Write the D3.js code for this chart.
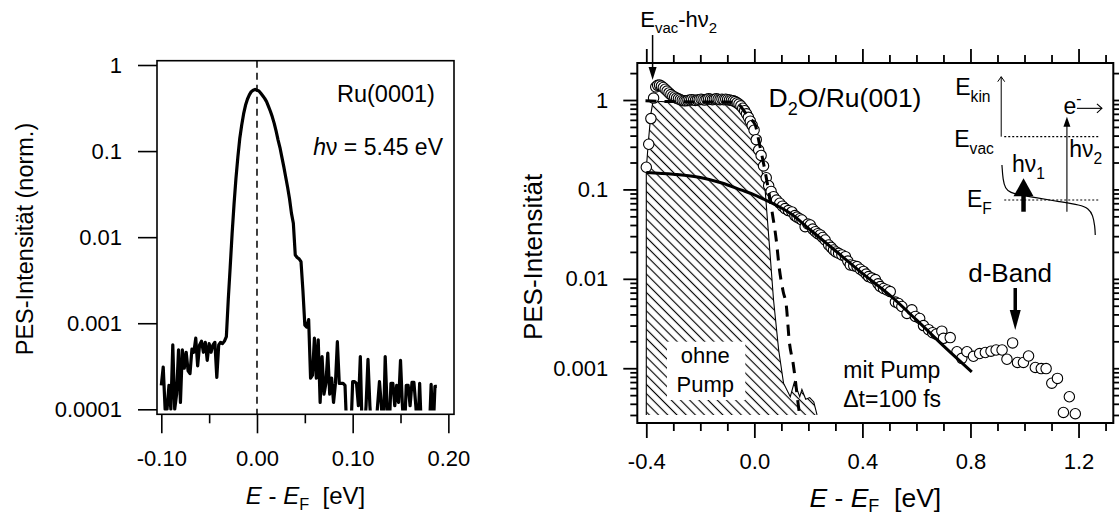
<!DOCTYPE html>
<html>
<head>
<meta charset="utf-8">
<title>PES spectra</title>
<script src="https://cdn.jsdelivr.net/npm/d3@7/dist/d3.min.js"></script>
<style>
html,body{margin:0;padding:0;background:#fff;}
svg{display:block;}
text{font-family:"Liberation Sans",Arial,Helvetica,sans-serif;fill:#000;}
</style>
</head>
<body>
<svg id="chart" width="1119" height="519"></svg>
<script>
// ================= DATA =================
// Left panel: Ru(0001), hv = 5.45 eV  (E - E_F in eV, sampled every 2 meV)
const leftStartE = -0.100, leftStepE = 0.002;
const leftI = [
 1.9e-4,3.1e-4,1.0e-4,1.0e-4,1.9e-4,1.0e-4,5.6e-4,1.0e-4,1.5e-4,4.9e-4,
 1.2e-4,4.9e-4,3.0e-4,4.6e-4,2.8e-4,2.6e-4,5.0e-4,4.6e-4,6.7e-4,3.2e-4,
 5.6e-4,6.2e-4,4.6e-4,6.0e-4,3.7e-4,5.8e-4,4.6e-4,5.6e-4,6.0e-4,2.35e-4,
 5.6e-4,6.0e-4,5.8e-4,6.2e-4,7.0e-4,1.9e-3,4.5e-3,0.011,0.024,0.048,
 0.085,0.14,0.20,0.27,0.34,0.40,0.45,0.49,0.51,0.52,
 0.51,0.50,0.47,0.44,0.41,0.375,0.33,0.29,0.25,0.21,
 0.17,0.135,0.11,0.085,0.066,0.05,0.038,0.028,0.019,0.0145,
 0.0062,0.0058,0.0056,0.0052,0.0024,9.5e-4,9.0e-4,1.1e-3,2.3e-4,2.5e-4,
 6.7e-4,2.3e-4,6.4e-4,1.2e-4,4.1e-4,1.5e-4,2.0e-4,4.5e-4,1.5e-4,2.3e-4,
 1.2e-4,2.0e-4,6.1e-4,2.0e-4,2.0e-4,2.0e-4,1.9e-4,5e-5,5e-5,5e-5,
 2.1e-4,2.1e-4,2.0e-4,1.1e-4,4.1e-4,5e-5,5e-5,1.1e-4,3.8e-4,1.1e-4,
 5e-5,5e-5,5e-5,1.1e-4,2.1e-4,1.1e-4,5e-5,4.1e-4,1.1e-4,5e-5,
 2.0e-4,2.0e-4,1.1e-4,1.9e-4,1.2e-4,3.7e-4,1.1e-4,5e-5,1.9e-4,1.9e-4,
 1.1e-4,2.05e-4,2.05e-4,1.1e-4,5e-5,2.0e-4,5e-5,5e-5,5e-5,5e-5,
 5e-5,1.95e-4,5e-5,1.85e-4,1.85e-4
];
const leftE = leftI.map((_, i) => +(leftStartE + i * leftStepE).toFixed(3));
const leftXTicks  = [-0.10, -0.05, 0.00, 0.05, 0.10, 0.15, 0.20];
const leftXLabels = ["-0.10", "", "0.00", "", "0.10", "", "0.20"];
const leftYTicks  = [1, 0.1, 0.01, 0.001, 0.0001];
const leftYLabels = ["1", "0.1", "0.01", "0.001", "0.0001"];

// Right panel: D2O/Ru(001), "mit Pump" (open circles)
const pumpE = [-0.400,-0.391,-0.383,-0.373,
 -0.365,-0.358,-0.351,-0.344,-0.337,-0.330,-0.323,-0.316,-0.309,-0.302,
 -0.295,-0.288,-0.281,-0.274,-0.267,-0.260,-0.253,-0.246,-0.239,-0.232,
 -0.225,-0.218,-0.211,-0.204,-0.197,-0.190,-0.183,-0.176,-0.169,-0.162,
 -0.155,-0.148,-0.141,-0.134,-0.127,-0.120,-0.113,-0.106,-0.099,-0.092,
 -0.085,-0.078,-0.071,-0.064,-0.057,-0.050,-0.043,-0.036,-0.029,-0.022,
 -0.015,-0.008,
 -0.001,0.007,0.016,0.025,0.034,0.044,0.053,0.062,0.071,0.082,
 0.094,0.104,0.114,0.126,0.139,0.150,0.158,0.168,0.176,0.188,
 0.198,0.207,0.216,0.226,0.235,0.244,0.253,0.262,0.275,0.284,
 0.293,0.302,0.312,0.324,0.337,0.346,0.355,0.368,0.380,0.392,
 0.404,0.414,0.423,0.435,0.448,0.458,0.466,0.478,0.491,0.503,
 0.522,0.534,0.546,0.565,0.583,0.596,0.612,0.626,0.645,0.660,
 0.673,0.694,0.700,0.725,0.750,0.768,0.787,0.811,0.834,0.855,
 0.876,0.895,0.917,0.935,0.956,0.974,0.996,1.015,1.040,1.062,
 1.080,1.101,1.122,1.144,1.166,1.188];
const pumpI = [0.177,0.32,0.62,1.05,
 1.40,1.46,1.47,1.43,1.38,1.32,1.26,1.20,1.15,1.11,
 1.08,1.05,1.03,1.01,0.99,0.98,0.98,0.99,1.00,1.01,
 1.00,0.99,1.00,1.01,1.02,1.01,1.00,1.02,1.03,1.02,
 1.01,1.02,1.03,1.02,1.01,1.02,1.01,1.02,1.01,1.00,
 0.99,0.98,0.96,0.93,0.90,0.86,0.81,0.76,0.70,0.64,
 0.58,0.52,
 0.46,0.36,0.276,0.24,0.183,0.135,0.11,0.095,0.083,0.076,
 0.07,0.065,0.061,0.058,0.056,0.051,0.049,0.047,0.0455,0.0383,
 0.041,0.040,0.036,0.0337,0.032,0.031,0.029,0.0272,0.0239,0.0225,
 0.021,0.020,0.0193,0.0185,0.0177,0.0158,0.0143,0.014,0.0137,0.0128,
 0.0121,0.0113,0.0106,0.0102,0.0098,0.0088,0.0082,0.0078,0.0075,0.0072,
 0.0055,0.0053,0.0049,0.0041,0.0045,0.0038,0.0036,0.0030,0.0027,0.0025,
 0.0024,0.0026,0.00216,0.0022,0.00153,0.00129,0.00153,0.00136,0.00146,0.0015,
 0.00155,0.0016,0.0016,0.00126,0.00192,0.00116,0.00116,0.00137,0.00102,0.00099,
 0.00099,0.00068,0.00077,0.00032,0.00048,0.00031];

// solid fit curve through "mit Pump"
const fitE = [-0.400,-0.300,-0.200,-0.120,-0.050,0.000,0.050,0.100,0.133,0.200,0.300,0.400,0.500,0.600,0.700,0.805];
const fitI = [0.155,0.148,0.136,0.118,0.099,0.087,0.074,0.062,0.054,0.0367,0.0206,0.0115,0.0066,0.00347,0.00178,0.00091];

// dashed curve (fit of "ohne Pump")
const ohneFitE = [-0.403,-0.300,-0.200,-0.100,-0.070,-0.055,-0.041,-0.020,0.0034,0.0182,0.0367,0.0663,0.0811,0.0922,0.107,0.118,0.1292,0.144,0.1627,0.1681];
const ohneFitI = [0.98,0.96,0.95,0.95,0.94,0.88,0.773,0.64,0.525,0.33,0.178,0.0545,0.0272,0.0132,0.00712,0.00509,0.00201,0.00111,3.87e-4,2.85e-4];

// hatched "ohne Pump" spectrum
const ohneE = [-0.400,-0.392,-0.383,-0.375,-0.360,-0.300,-0.200,-0.100,-0.060,-0.040,-0.020,-0.009,0.002,0.010,0.022,0.034,0.040,0.057,0.071,0.090,0.108,0.133,0.148,0.158,0.168,0.176,0.190,0.205,0.220,0.232];
const ohneI = [0.17,0.35,0.70,0.98,0.97,0.94,0.93,0.94,0.90,0.80,0.68,0.55,0.43,0.33,0.21,0.127,0.098,0.021,0.0058,0.0016,0.00068,0.00048,0.0007,0.00058,0.00048,0.00058,0.00045,0.00047,0.00042,0.0003];
const ohneBase = 3e-4;

const rightXTicks  = [-0.4,-0.3,-0.2,-0.1,0.0,0.1,0.2,0.3,0.4,0.5,0.6,0.7,0.8,0.9,1.0,1.1,1.2,1.3];
const rightXLabels = ["-0.4","","","","0.0","","","","0.4","","","","0.8","","","","1.2",""];
const rightYMajor  = [0.001, 0.01, 0.1, 1];
const rightYLabels = ["0.001", "0.01", "0.1", "1"];
const rightYMinor  = [3e-4,4e-4,5e-4,6e-4,7e-4,8e-4,9e-4,
                      2e-3,3e-3,4e-3,5e-3,6e-3,7e-3,8e-3,9e-3,
                      0.02,0.03,0.04,0.05,0.06,0.07,0.08,0.09,
                      0.2,0.3,0.4,0.5,0.6,0.7,0.8,0.9,2];

// inset energy diagram (sketch) in panel data coordinates [E, I]
const dosE = [0.9165,0.9202,0.9287,0.9472,0.9842,1.0336,1.1323,1.2063,1.2370,1.2533,1.2607,1.2619];
const dosI = [0.1875,0.1274,0.1028,0.0918,0.0865,0.0816,0.0728,0.0669,0.0614,0.0517,0.0383,0.0309];

// ================= DRAW =================
const svg = d3.select("#chart");
const defs = svg.append("defs");
const BLACK = "#000";

function richText(g, x, y, parts, size, anchor, subShift) {
  const t = g.append("text").attr("x", x).attr("y", y)
    .attr("font-size", size).attr("text-anchor", anchor || "start")
    .attr("xml:space", "preserve").style("white-space", "pre");
  const sub = subShift == null ? 0.3 : subShift;
  let shift = 0;
  parts.forEach(p => {
    const str = p[0], kind = p[1] || "", style = p[2] || "";
    let target = 0, fs = size;
    if (kind === "sub") { target = size * sub; fs = size * 0.68; }
    if (kind === "sup") { target = -size * 0.42; fs = size * 0.68; }
    const ts = t.append("tspan").text(str).attr("font-size", fs).attr("dy", target - shift);
    shift = target;
    if (style === "italic") ts.attr("font-style", "italic");
  });
  return t;
}

function arrow(g, x0, y0, x1, y1, o) {
  const dx = x1 - x0, dy = y1 - y0, L = Math.hypot(dx, dy), ux = dx / L, uy = dy / L;
  const bx = x1 - ux * o.hl, by = y1 - uy * o.hl;
  const pts = `${bx - uy * o.hw / 2},${by + ux * o.hw / 2} ${x1},${y1} ${bx + uy * o.hw / 2},${by - ux * o.hw / 2}`;
  if (o.open) {
    g.append("line").attr("x1", x0).attr("y1", y0).attr("x2", x1).attr("y2", y1)
      .attr("stroke", BLACK).attr("stroke-width", o.sw);
    g.append("polyline").attr("points", pts).attr("fill", "none").attr("stroke", BLACK).attr("stroke-width", o.sw);
  } else {
    g.append("line").attr("x1", x0).attr("y1", y0).attr("x2", bx + ux * 1).attr("y2", by + uy * 1)
      .attr("stroke", BLACK).attr("stroke-width", o.sw);
    g.append("polygon").attr("points", pts).attr("fill", BLACK);
  }
}

// ---------- LEFT PANEL ----------
const xL = d3.scaleLinear().domain([-0.1045, 0.2059]).range([157, 454]);
const yL = d3.scaleLog().domain([8.75e-5, 1.122]).range([414.3, 60.7]);
const fL = { x0: 157, x1: 454, y0: 60.7, y1: 414.3 };

defs.append("clipPath").attr("id", "clipL").append("rect")
  .attr("x", fL.x0).attr("y", fL.y0).attr("width", fL.x1 - fL.x0)
  .attr("height", yL(1e-4) + 1.2 - fL.y0);

const gL = svg.append("g");
gL.append("line").attr("x1", xL(0)).attr("x2", xL(0)).attr("y1", fL.y0).attr("y2", fL.y1)
  .attr("stroke", BLACK).attr("stroke-width", 1.5).attr("stroke-dasharray", "7,5");

gL.append("path").datum(leftE.map((e, i) => [e, leftI[i]]))
  .attr("clip-path", "url(#clipL)")
  .attr("fill", "none").attr("stroke", BLACK).attr("stroke-width", 3.2)
  .attr("stroke-linejoin", "round")
  .attr("d", d3.line().x(d => xL(d[0])).y(d => yL(d[1])));

gL.append("rect").attr("x", fL.x0).attr("y", fL.y0).attr("width", fL.x1 - fL.x0)
  .attr("height", fL.y1 - fL.y0).attr("fill", "none").attr("stroke", BLACK).attr("stroke-width", 1.6);

// left axes
const gLY = gL.append("g").attr("transform", `translate(${fL.x0},0)`)
  .call(d3.axisLeft(yL).tickValues(leftYTicks).tickFormat((d, i) => leftYLabels[i]).tickSize(19).tickPadding(16));
gLY.select(".domain").remove();
gLY.attr("font-size", 22).attr("font-family", null);
gLY.selectAll(".tick line").attr("stroke-width", 1.6);

const gLX = gL.append("g").attr("transform", `translate(0,${fL.y1})`)
  .call(d3.axisBottom(xL).tickValues(leftXTicks).tickFormat((d, i) => leftXLabels[i]).tickSize(19));
gLX.select(".domain").remove();
gLX.attr("font-size", 22).attr("font-family", null);
gLX.selectAll(".tick line").attr("stroke-width", 1.6)
  .attr("y2", d => leftXLabels[leftXTicks.indexOf(d)] ? 19 : 9);
gLX.selectAll(".tick text").attr("y", 51.7).attr("dy", 0);

// left titles
gL.append("text").attr("transform", "translate(33,239) rotate(-90)")
  .attr("text-anchor", "middle").attr("font-size", 23.5).text("PES-Intensität (norm.)");
richText(gL, (fL.x0 + fL.x1) / 2, 504,
  [["E", "", "italic"], [" - "], ["E", "", "italic"], ["F", "sub"], ["  [eV]"]], 24, "middle", 0.24);
richText(gL, xL(0.186), yL(0.375), [["Ru(0001)"]], 23.5, "end");
richText(gL, xL(0.1944), yL(0.09), [["h", "", "italic"], ["ν = 5.45 eV"]], 23, "end");

// ---------- RIGHT PANEL ----------
const xR = d3.scaleLinear().domain([-0.4333, 1.3287]).range([637.3, 1113.3]);
const yR = d3.scaleLog().domain([2.44e-4, 2.594]).range([423, 63]);
const fR = { x0: 637.3, x1: 1113.3, y0: 63, y1: 423 };
const gR = svg.append("g");

// hatch pattern
const pat = defs.append("pattern").attr("id", "hatch").attr("patternUnits", "userSpaceOnUse")
  .attr("width", 6.5).attr("height", 6.5).attr("patternTransform", "rotate(-45)");
pat.append("line").attr("x1", 3.25).attr("x2", 3.25).attr("y1", -1).attr("y2", 7.5)
  .attr("stroke", BLACK).attr("stroke-width", 1.15);

const ohneData = ohneE.map((e, i) => [e, ohneI[i]]);
gR.append("path").datum(ohneData).attr("fill", "url(#hatch)").attr("stroke", "none")
  .attr("d", d3.area().x(d => xR(d[0])).y0(yR(ohneBase)).y1(d => yR(d[1])));
gR.append("path").datum(ohneData).attr("fill", "none").attr("stroke", BLACK).attr("stroke-width", 1.1)
  .attr("d", d3.line().x(d => xR(d[0])).y(d => yR(d[1])));
gR.append("line").attr("x1", xR(ohneE[0])).attr("x2", xR(ohneE[0]))
  .attr("y1", yR(ohneBase)).attr("y2", yR(ohneI[0])).attr("stroke", BLACK).attr("stroke-width", 1.1);

// "ohne Pump" label on white box
gR.append("rect").attr("x", xR(-0.3234)).attr("y", yR(0.00198))
  .attr("width", xR(-0.0336) - xR(-0.3234)).attr("height", yR(4.41e-4) - yR(0.00198)).attr("fill", "#fff");
richText(gR, xR(-0.1816), yR(0.00114), [["ohne"]], 22, "middle");
richText(gR, xR(-0.1816), yR(5.46e-4), [["Pump"]], 22, "middle");

// circles (mit Pump)
gR.append("g").selectAll("circle").data(pumpE.map((e, i) => [e, pumpI[i]])).join("circle")
  .attr("cx", d => xR(d[0])).attr("cy", d => yR(d[1])).attr("r", 5.2)
  .attr("fill", "#fff").attr("stroke", BLACK).attr("stroke-width", 1.1);

// solid fit
gR.append("path").datum(fitE.map((e, i) => [e, fitI[i]])).attr("fill", "none")
  .attr("stroke", BLACK).attr("stroke-width", 3)
  .attr("d", d3.line().curve(d3.curveMonotoneX).x(d => xR(d[0])).y(d => yR(d[1])));

// dashed fit
gR.append("path").datum(ohneFitE.map((e, i) => [e, ohneFitI[i]])).attr("fill", "none")
  .attr("stroke", BLACK).attr("stroke-width", 3).attr("stroke-dasharray", "11,8")
  .attr("d", d3.line().curve(d3.curveMonotoneX).x(d => xR(d[0])).y(d => yR(d[1])));

// frame
gR.append("rect").attr("x", fR.x0).attr("y", fR.y0).attr("width", fR.x1 - fR.x0)
  .attr("height", fR.y1 - fR.y0).attr("fill", "none").attr("stroke", BLACK).attr("stroke-width", 2);

// right axes
const yTicksR = rightYMajor.concat(rightYMinor);
const isMajY = d => rightYMajor.some(v => Math.abs(v - d) / v < 1e-6);
const labY = d => { const i = rightYMajor.findIndex(v => Math.abs(v - d) / v < 1e-6); return i >= 0 ? rightYLabels[i] : ""; };

const gRY = gR.append("g").attr("transform", `translate(${fR.x0},0)`)
  .call(d3.axisLeft(yR).tickValues(yTicksR).tickFormat(labY).tickSize(14).tickPadding(15));
gRY.select(".domain").remove();
gRY.attr("font-size", 22).attr("font-family", null);
gRY.selectAll(".tick line").attr("stroke-width", 1.8).attr("x2", d => isMajY(d) ? -14 : -7);

const gRY2 = gR.append("g").attr("transform", `translate(${fR.x1},0)`)
  .call(d3.axisRight(yR).tickValues(yTicksR).tickFormat("").tickSize(14));
gRY2.select(".domain").remove();
gRY2.selectAll(".tick line").attr("stroke-width", 1.8).attr("x2", d => isMajY(d) ? 14 : 7);

const isMajX = d => rightXLabels[rightXTicks.findIndex(v => Math.abs(v - d) < 1e-9)] !== "";
const gRX = gR.append("g").attr("transform", `translate(0,${fR.y1})`)
  .call(d3.axisBottom(xR).tickValues(rightXTicks).tickFormat((d, i) => rightXLabels[i]).tickSize(15));
gRX.select(".domain").remove();
gRX.attr("font-size", 22).attr("font-family", null);
gRX.selectAll(".tick line").attr("stroke-width", 1.8).attr("y2", d => isMajX(d) ? 15 : 8);
gRX.selectAll(".tick text").attr("y", 46).attr("dy", 0);

const gRX2 = gR.append("g").attr("transform", `translate(0,${fR.y0})`)
  .call(d3.axisTop(xR).tickValues(rightXTicks).tickFormat("").tickSize(15));
gRX2.select(".domain").remove();
gRX2.selectAll(".tick line").attr("stroke-width", 1.8).attr("y2", d => isMajX(d) ? -14 : -8);

// right titles
gR.append("text").attr("transform", "translate(542,257) rotate(-90)")
  .attr("text-anchor", "middle").attr("font-size", 26).text("PES-Intensität");
richText(gR, (fR.x0 + fR.x1) / 2, 507,
  [["E", "", "italic"], [" - "], ["E", "", "italic"], ["F", "sub"], ["  [eV]"]], 26.5, "middle", 0.2);

// annotations
richText(gR, xR(0.0526), yR(0.835), [["D"], ["2", "sub"], ["O/Ru(001)"]], 26.5);
richText(gR, xR(-0.4222), yR(6.6), [["E"], ["vac", "sub"], ["-hν"], ["2", "sub"]], 22);
arrow(gR, xR(-0.3767), yR(5.33), xR(-0.3767), yR(1.674), { hl: 13, hw: 8, sw: 1.5 });

richText(gR, xR(0.7917), yR(0.00928), [["d-Band"]], 26);
arrow(gR, xR(0.9657), yR(0.00789), xR(0.9657), yR(0.00267), { hl: 20, hw: 11, sw: 3.5 });

richText(gR, xR(0.329), yR(7.7e-4), [["mit Pump"]], 23);
richText(gR, xR(0.329), yR(3.71e-4), [["Δt=100 fs"]], 23);

// inset energy diagram
const gI = gR.append("g");
richText(gI, xR(0.7436), yR(1.137), [["E"], ["kin", "sub"]], 23);
richText(gI, xR(0.740), yR(0.30), [["E"], ["vac", "sub"]], 23);
richText(gI, xR(0.787), yR(0.064), [["E"], ["F", "sub"]], 23);
richText(gI, xR(0.9535), yR(0.158), [["hν"], ["1", "sub"]], 23);
richText(gI, xR(1.1655), yR(0.232), [["hν"], ["2", "sub"]], 23);
richText(gI, xR(1.1444), yR(0.697), [["e"], ["-", "sup"]], 23);

gI.append("line").attr("x1", xR(0.925)).attr("x2", xR(1.273)).attr("y1", yR(0.389)).attr("y2", yR(0.389))
  .attr("stroke", BLACK).attr("stroke-width", 1.2).attr("stroke-dasharray", "2,2");
gI.append("line").attr("x1", xR(0.925)).attr("x2", xR(1.273)).attr("y1", yR(0.0761)).attr("y2", yR(0.0761))
  .attr("stroke", BLACK).attr("stroke-width", 1.2).attr("stroke-dasharray", "2,2");

arrow(gI, xR(0.9138), yR(0.3886), xR(0.9138), yR(1.822), { hl: 5, hw: 7, sw: 1, open: true });
arrow(gI, xR(1.157), yR(0.0563), xR(1.157), yR(0.650), { hl: 10, hw: 7, sw: 1.1 });
arrow(gI, xR(0.9964), yR(0.0563), xR(0.9964), yR(0.133), { hl: 18, hw: 20, sw: 4.5 });
arrow(gI, xR(1.194), yR(0.807), xR(1.2866), yR(0.807), { hl: 5, hw: 9, sw: 1.1, open: true });

gI.append("path").datum(dosE.map((e, i) => [e, dosI[i]])).attr("fill", "none")
  .attr("stroke", BLACK).attr("stroke-width", 1.2)
  .attr("d", d3.line().curve(d3.curveBasis).x(d => xR(d[0])).y(d => yR(d[1])));
</script>
</body>
</html>
